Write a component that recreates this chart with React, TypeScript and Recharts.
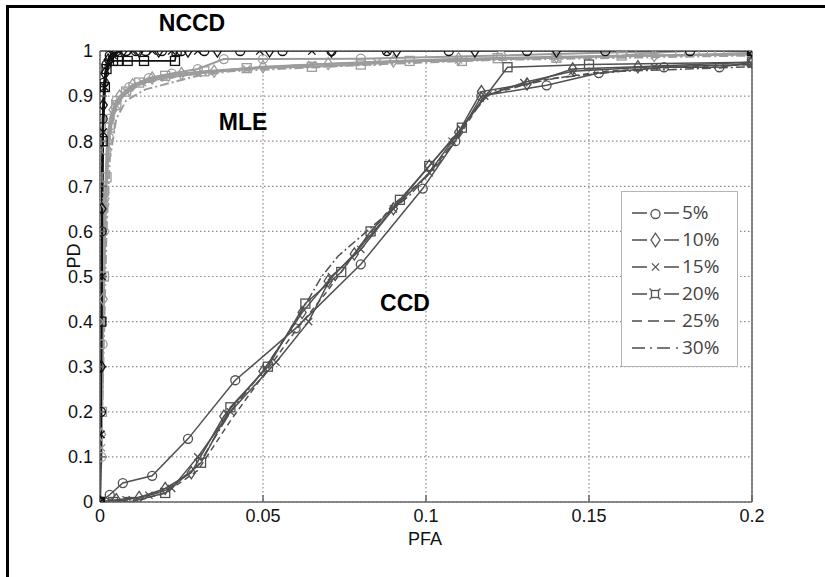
import React from "react";
import { LineChart, Line, XAxis, YAxis, CartesianGrid, Legend } from "recharts";

type Pt = [number, number];

const PERCENTS = ["5%", "10%", "15%", "20%", "25%", "30%"];
const X_TICKS = [0, 0.05, 0.1, 0.15, 0.2];
const Y_TICKS = [0, 0.1, 0.2, 0.3, 0.4, 0.5, 0.6, 0.7, 0.8, 0.9, 1];

// CCD curves (dark gray)
const CCD_5: Pt[] = [[0, 0], [0.003, 0.016], [0.007, 0.042], [0.016, 0.058], [0.027, 0.14], [0.0415, 0.27], [0.06, 0.385], [0.08, 0.527], [0.099, 0.695], [0.109, 0.8], [0.117, 0.9], [0.137, 0.924], [0.153, 0.951], [0.173, 0.964], [0.19, 0.964], [0.2, 0.975]];
const CCD_10: Pt[] = [[0, 0], [0.005, 0.005], [0.012, 0.01], [0.02, 0.03], [0.028, 0.065], [0.038, 0.19], [0.05, 0.29], [0.062, 0.42], [0.07, 0.49], [0.078, 0.55], [0.09, 0.65], [0.101, 0.745], [0.11, 0.82], [0.117, 0.91], [0.131, 0.927], [0.145, 0.96], [0.165, 0.965], [0.2, 0.975]];
const CCD_15: Pt[] = [[0, 0], [0.008, 0.005], [0.015, 0.015], [0.022, 0.03], [0.03, 0.1], [0.04, 0.2], [0.054, 0.31], [0.064, 0.4], [0.071, 0.5], [0.08, 0.56], [0.09, 0.65], [0.101, 0.73], [0.108, 0.8], [0.118, 0.9], [0.13, 0.93], [0.145, 0.955], [0.17, 0.965], [0.2, 0.97]];
const CCD_20: Pt[] = [[0, 0], [0.004, 0], [0.009, 0], [0.02, 0.02], [0.031, 0.087], [0.04, 0.21], [0.0515, 0.3], [0.063, 0.44], [0.074, 0.51], [0.083, 0.6], [0.092, 0.67], [0.101, 0.745], [0.111, 0.83], [0.125, 0.964], [0.15, 0.97], [0.2, 0.975]];
const CCD_25: Pt[] = [[0, 0], [0.01, 0], [0.02, 0.02], [0.03, 0.07], [0.04, 0.18], [0.05, 0.28], [0.06, 0.38], [0.07, 0.47], [0.08, 0.57], [0.09, 0.66], [0.1, 0.72], [0.11, 0.81], [0.118, 0.9], [0.135, 0.935], [0.155, 0.955], [0.18, 0.965], [0.2, 0.97]];
const CCD_30: Pt[] = [[0, 0], [0.01, 0.005], [0.02, 0.025], [0.03, 0.08], [0.04, 0.2], [0.05, 0.29], [0.06, 0.4], [0.068, 0.5], [0.073, 0.545], [0.085, 0.62], [0.095, 0.68], [0.105, 0.76], [0.113, 0.85], [0.12, 0.91], [0.14, 0.94], [0.16, 0.955], [0.2, 0.965]];

// NCCD curves (black)
const NCCD_5: Pt[] = [[0, 0], [0.0003, 0.2], [0.0005, 0.6], [0.0008, 0.85], [0.0012, 0.93], [0.002, 0.97], [0.003, 0.99], [0.005, 1], [0.008, 1], [0.011, 1], [0.014, 1], [0.019, 1], [0.025, 1], [0.032, 1], [0.043, 1], [0.056, 1], [0.071, 1], [0.088, 1], [0.107, 1], [0.131, 1], [0.155, 1], [0.181, 1], [0.2, 1]];
const NCCD_10: Pt[] = [[0, 0], [0.0004, 0.3], [0.0006, 0.65], [0.001, 0.88], [0.0015, 0.95], [0.0025, 0.98], [0.004, 1], [0.007, 1], [0.012, 1], [0.018, 1], [0.027, 1], [0.036, 1], [0.052, 1], [0.071, 1], [0.091, 1], [0.115, 1], [0.14, 1], [0.2, 1]];
const NCCD_15: Pt[] = [[0, 0], [0.0003, 0.15], [0.0006, 0.5], [0.001, 0.82], [0.0015, 0.92], [0.0025, 0.975], [0.004, 0.99], [0.006, 1], [0.01, 1], [0.016, 1], [0.022, 1], [0.03, 1], [0.049, 1], [0.065, 1], [0.088, 1], [0.2, 1]];
const NCCD_20: Pt[] = [[0, 0], [0.0004, 0.4], [0.0008, 0.8], [0.0015, 0.92], [0.002, 0.96], [0.004, 0.978], [0.0055, 0.978], [0.0085, 0.978], [0.0135, 0.978], [0.023, 0.978], [0.0235, 1], [0.2, 1]];
const NCCD_25: Pt[] = [[0, 0], [0.0004, 0.5], [0.0008, 0.86], [0.0015, 0.94], [0.003, 0.98], [0.005, 1], [0.2, 1]];
const NCCD_30: Pt[] = [[0, 0], [0.0005, 0.55], [0.001, 0.88], [0.002, 0.95], [0.004, 0.985], [0.006, 1], [0.2, 1]];

// MLE curves (light gray)
const MLE_5: Pt[] = [[0, 0], [0.0004, 0.1], [0.0008, 0.35], [0.0012, 0.6], [0.002, 0.78], [0.003, 0.85], [0.005, 0.89], [0.009, 0.92], [0.015, 0.94], [0.022, 0.95], [0.03, 0.96], [0.038, 0.982], [0.05, 0.982], [0.08, 0.983], [0.123, 0.99], [0.163, 0.998], [0.185, 1], [0.2, 1]];
const MLE_10: Pt[] = [[0, 0], [0.0005, 0.15], [0.001, 0.45], [0.0015, 0.66], [0.0025, 0.8], [0.004, 0.87], [0.006, 0.9], [0.01, 0.925], [0.016, 0.94], [0.025, 0.95], [0.035, 0.955], [0.05, 0.965], [0.07, 0.972], [0.09, 0.978], [0.11, 0.983], [0.14, 0.987], [0.17, 0.99], [0.2, 0.992]];
const MLE_15: Pt[] = [[0, 0], [0.0005, 0.12], [0.001, 0.4], [0.0018, 0.68], [0.003, 0.82], [0.005, 0.88], [0.008, 0.91], [0.013, 0.93], [0.02, 0.94], [0.03, 0.95], [0.045, 0.96], [0.065, 0.97], [0.085, 0.975], [0.11, 0.98], [0.14, 0.985], [0.17, 0.99], [0.2, 0.995]];
const MLE_20: Pt[] = [[0, 0], [0.0006, 0.2], [0.0012, 0.5], [0.002, 0.72], [0.003, 0.83], [0.005, 0.88], [0.008, 0.91], [0.012, 0.93], [0.02, 0.945], [0.032, 0.955], [0.045, 0.962], [0.065, 0.965], [0.08, 0.97], [0.095, 0.978], [0.111, 0.978], [0.122, 0.984], [0.14, 0.985], [0.16, 0.99], [0.178, 1], [0.19, 1], [0.2, 0.998]];
const MLE_25: Pt[] = [[0, 0], [0.0008, 0.3], [0.0015, 0.6], [0.0025, 0.78], [0.004, 0.86], [0.007, 0.9], [0.012, 0.925], [0.02, 0.94], [0.035, 0.955], [0.06, 0.968], [0.09, 0.976], [0.12, 0.982], [0.16, 0.988], [0.2, 0.993]];
const MLE_30: Pt[] = [[0, 0], [0.001, 0.3], [0.002, 0.6], [0.003, 0.76], [0.005, 0.85], [0.008, 0.89], [0.014, 0.915], [0.022, 0.93], [0.03, 0.945], [0.04, 0.955], [0.06, 0.962], [0.09, 0.972], [0.12, 0.98], [0.16, 0.985], [0.2, 0.99]];

const MARKERS = ["circle", "diamond", "cross", "square", "none", "none"];
const DASHES = [undefined, undefined, undefined, undefined, "6 4", "9 3 2 3"];

const GROUPS = [
  { name: "MLE", color: "#9c9c9c", width: 2, series: [MLE_5, MLE_10, MLE_15, MLE_20, MLE_25, MLE_30] },
  { name: "CCD", color: "#505050", width: 1.5, series: [CCD_5, CCD_10, CCD_15, CCD_20, CCD_25, CCD_30] },
  { name: "NCCD", color: "#111111", width: 1.6, series: [NCCD_5, NCCD_10, NCCD_15, NCCD_20, NCCD_25, NCCD_30] },
];

const toRows = (pts: Pt[]) => pts.map(([x, y]) => ({ x, y }));

const AXIS_FONT = "'Liberation Sans', Arial, sans-serif";
const EmptyTick = () => <g />;

function Marker({ kind, cx, cy, color, s = 4.5 }: any) {
  if (cx == null || cy == null) return <g />;
  const common = { fill: "none", stroke: color, strokeWidth: 1.3 };
  if (kind === "circle") return <circle cx={cx} cy={cy} r={s} {...common} />;
  if (kind === "diamond")
    return (
      <polygon
        points={`${cx},${cy - s * 1.35} ${cx + s * 0.9},${cy} ${cx},${cy + s * 1.35} ${cx - s * 0.9},${cy}`}
        {...common}
      />
    );
  if (kind === "cross") {
    const d = s * 0.8;
    return <path d={`M${cx - d},${cy - d}L${cx + d},${cy + d}M${cx - d},${cy + d}L${cx + d},${cy - d}`} {...common} />;
  }
  if (kind === "square") return <rect x={cx - s} y={cy - s} width={2 * s} height={2 * s} {...common} />;
  return <g />;
}

function LegendSymbol({ i }: { i: number }) {
  const c = "#555";
  if (i === 4)
    return (
      <g stroke={c} strokeWidth={1.6}>
        <line x1={0} y1={10} x2={10} y2={10} />
        <line x1={16} y1={10} x2={27} y2={10} />
        <line x1={32} y1={10} x2={43} y2={10} />
      </g>
    );
  if (i === 5)
    return (
      <g stroke={c} strokeWidth={1.6}>
        <line x1={0} y1={10} x2={13} y2={10} />
        <line x1={18} y1={10} x2={20} y2={10} />
        <line x1={25} y1={10} x2={38} y2={10} />
        <line x1={44} y1={10} x2={46} y2={10} />
      </g>
    );
  const kind = MARKERS[i];
  return (
    <g>
      <line x1={0} y1={10} x2={15} y2={10} stroke={c} strokeWidth={1.6} />
      <line x1={32} y1={10} x2={47} y2={10} stroke={c} strokeWidth={1.6} />
      {kind === "square" ? (
        <g stroke={c} strokeWidth={1.3} fill="none">
          <rect x={19.5} y={6.5} width={7} height={7} />
          <path d="M19.5,6.5l-2,-2M26.5,6.5l2,-2M19.5,13.5l-2,2M26.5,13.5l2,2" />
        </g>
      ) : (
        <Marker kind={kind} cx={23.5} cy={kind === "circle" ? 11 : 10} color={c} s={kind === "diamond" ? 5 : 4.5} />
      )}
    </g>
  );
}

function LegendBox() {
  return (
    <div
      style={{
        boxSizing: "border-box",
        width: 117,
        height: 176,
        border: "1.5px solid #b4b4b4",
        background: "#fff",
        padding: "7px 0 0 10px",
        fontFamily: "'Open Sans', sans-serif",
        fontSize: 19,
        color: "#444",
      }}
    >
      {PERCENTS.map((p, i) => (
        <div key={p} style={{ display: "flex", alignItems: "center", height: 27 }}>
          <svg width={50} height={20} style={{ flex: "none" }}>
            <LegendSymbol i={i} />
          </svg>
          <span style={{ lineHeight: "27px" }}>{p}</span>
        </div>
      ))}
    </div>
  );
}

const labelStyle = (x: number, y: number, extra: React.CSSProperties = {}): React.CSSProperties => ({
  position: "absolute",
  left: x,
  top: y,
  transform: "translate(-50%, -50%)",
  fontFamily: AXIS_FONT,
  color: "#000",
  whiteSpace: "nowrap",
  ...extra,
});

const axisStyle = { stroke: "#666", strokeWidth: 1.5 };

export default function App() {
  return (
    <div style={{ position: "absolute", left: 0, top: 0, width: 825, height: 577, background: "#fff", overflow: "hidden" }}>
      <div
        style={{
          position: "absolute",
          left: 6,
          top: 5,
          width: 819,
          height: 572,
          boxSizing: "border-box",
          borderLeft: "3px solid #000",
          borderTop: "3px solid #000",
        }}
      />
      <div style={{ position: "absolute", left: 0, top: 0 }}>
        <LineChart width={825} height={577} margin={{ top: 51, right: 73, bottom: 74, left: 99 }}>
          <CartesianGrid stroke="#8c8c8c" strokeDasharray="1.5 2.5" strokeWidth={1.2} />
          <XAxis
            type="number"
            dataKey="x"
            domain={[0, 0.2]}
            ticks={X_TICKS}
            interval={0}
            height={1}
            allowDataOverflow
            {...axisStyle}
            tickSize={-7}
            tickMargin={14}
            tick={{ fontSize: 18, fill: "#111", fontFamily: AXIS_FONT }}
          />
          <XAxis
            xAxisId="top"
            orientation="top"
            type="number"
            dataKey="x"
            domain={[0, 0.2]}
            ticks={X_TICKS}
            interval={0}
            height={1}
            mirror
            tick={EmptyTick}
            tickSize={7}
            {...axisStyle}
          />
          <YAxis
            type="number"
            domain={[0, 1]}
            ticks={Y_TICKS}
            interval={0}
            width={1}
            allowDataOverflow
            {...axisStyle}
            tickSize={-7}
            tickMargin={14}
            tick={{ fontSize: 18, fill: "#111", fontFamily: AXIS_FONT }}
          />
          <YAxis
            yAxisId="right"
            orientation="right"
            type="number"
            domain={[0, 1]}
            ticks={Y_TICKS}
            interval={0}
            width={1}
            mirror
            tick={EmptyTick}
            tickSize={7}
            {...axisStyle}
          />
          {GROUPS.flatMap((g) =>
            g.series.map((pts, i) => {
              const kind = MARKERS[i];
              const id = `${g.name}-${PERCENTS[i]}`;
              return (
                <Line
                  key={id}
                  name={`${g.name} ${PERCENTS[i]}`}
                  data={toRows(pts)}
                  dataKey="y"
                  type="linear"
                  stroke={g.color}
                  strokeWidth={g.width}
                  strokeDasharray={DASHES[i]}
                  isAnimationActive={false}
                  dot={
                    kind === "none"
                      ? false
                      : (p: any) => <Marker key={`${id}-${p.index}`} kind={kind} cx={p.cx} cy={p.cy} color={g.color} />
                  }
                  activeDot={false}
                />
              );
            })
          )}
          <Legend
            layout="horizontal"
            verticalAlign="middle"
            align="center"
            content={() => <LegendBox />}
            wrapperStyle={{ left: 621, top: 191, width: 117, height: 176 }}
          />
        </LineChart>
      </div>
      <div style={labelStyle(192, 23, { fontSize: 23, fontWeight: "bold" })}>NCCD</div>
      <div style={labelStyle(243, 122, { fontSize: 23, fontWeight: "bold" })}>MLE</div>
      <div style={labelStyle(405, 303, { fontSize: 23, fontWeight: "bold" })}>CCD</div>
      <div style={labelStyle(425, 539, { fontSize: 18, color: "#111" })}>PFA</div>
      <div style={labelStyle(74, 256, { fontSize: 18, color: "#111", transform: "translate(-50%, -50%) rotate(-90deg)" })}>PD</div>
    </div>
  );
}
